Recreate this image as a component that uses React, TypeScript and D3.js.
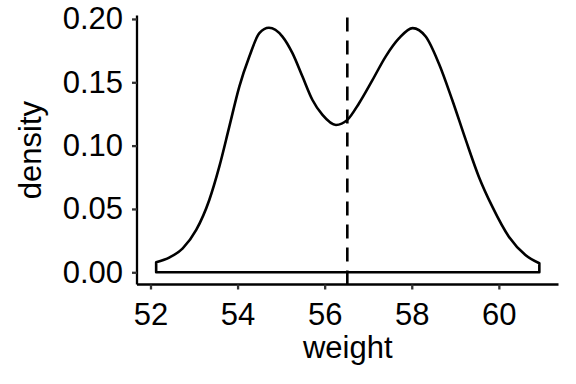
import * as d3 from "d3";
import { useEffect, useRef } from "react";

// density curve (weight -> density)
const weights = [
  52.13, 52.44, 52.74, 53.05, 53.35, 53.58, 53.81, 54.04, 54.27, 54.5, 54.72,
  55.03, 55.26, 55.49, 55.72, 55.95, 56.26, 56.52, 56.79, 57.1, 57.4, 57.71,
  58.02, 58.32, 58.62, 58.93, 59.24, 59.54, 59.85, 60.23, 60.61, 60.93,
];
const densities = [
  0.0079, 0.0118, 0.0189, 0.0334, 0.0571, 0.0834, 0.115, 0.1466, 0.1703,
  0.1888, 0.193, 0.1861, 0.173, 0.1545, 0.136, 0.1242, 0.1163, 0.1203,
  0.1335, 0.1519, 0.1703, 0.1848, 0.1928, 0.1861, 0.165, 0.136, 0.1045,
  0.0755, 0.0518, 0.0281, 0.0137, 0.0071,
];
const meanWeight = 56.52;

const xTicks = [52, 54, 56, 58, 60];
const yTicks = [0, 0.05, 0.1, 0.15, 0.2];

const width = 576;
const height = 384;

const DensityChart = () => {
  const svgRef = useRef(null);

  useEffect(() => {
    const margin = { top: 15.6, right: 17.5, bottom: 99.5, left: 137 };
    const svg = d3.select(svgRef.current);
    svg.selectAll("*").remove();
    svg.attr("width", width).attr("height", height);

    const font = "'Liberation Sans', Arial, Helvetica, sans-serif";
    const fontSize = 31;
    const points = weights.map((w, i) => ({ w, d: densities[i] }));

    // ggplot style 5% expansion on both scales
    const xMin = d3.min(weights);
    const xMax = d3.max(weights);
    const xPad = (xMax - xMin) * 0.05;
    const yMax = d3.max(densities);
    const yPad = yMax * 0.05;

    const xScale = d3
      .scaleLinear()
      .domain([xMin - xPad, xMax + xPad])
      .range([margin.left, width - margin.right]);
    const yScale = d3
      .scaleLinear()
      .domain([-yPad, yMax + yPad])
      .range([height - margin.bottom, margin.top]);

    const area = d3
      .area()
      .x((d) => xScale(d.w))
      .y0(yScale(0))
      .y1((d) => yScale(d.d))
      .curve(d3.curveMonotoneX);

    svg
      .append("path")
      .datum(points)
      .attr("d", area)
      .attr("fill", "white")
      .attr("stroke", "black")
      .attr("stroke-width", 2.6)
      .attr("stroke-linejoin", "round");

    // mean line
    svg
      .append("line")
      .attr("x1", xScale(meanWeight))
      .attr("x2", xScale(meanWeight))
      .attr("y1", height - margin.bottom)
      .attr("y2", margin.top)
      .attr("stroke", "black")
      .attr("stroke-width", 2.6)
      .attr("stroke-dasharray", "14,9");

    // axes
    const xAxis = svg
      .append("g")
      .attr("transform", `translate(0, ${height - margin.bottom})`)
      .call(d3.axisBottom(xScale).tickValues(xTicks).tickSize(5).tickPadding(13));
    const yAxis = svg
      .append("g")
      .attr("transform", `translate(${margin.left}, 0)`)
      .call(
        d3
          .axisLeft(yScale)
          .tickValues(yTicks)
          .tickSize(5)
          .tickPadding(9)
          .tickFormat(d3.format(".2f"))
      );

    [xAxis, yAxis].forEach((g) => {
      g.select(".domain").attr("stroke", "black").attr("stroke-width", 2.3);
      g.selectAll(".tick line").attr("stroke", "#333").attr("stroke-width", 2.3);
      g.selectAll(".tick text")
        .attr("fill", "black")
        .attr("font-size", fontSize)
        .attr("font-family", font);
    });
    xAxis
      .select(".domain")
      .attr("d", `M${margin.left},0H${width - margin.right}`);
    yAxis
      .select(".domain")
      .attr("d", `M0,${margin.top}V${height - margin.bottom}`);

    svg
      .append("text")
      .attr("x", (margin.left + width - margin.right) / 2)
      .attr("y", 358)
      .attr("text-anchor", "middle")
      .attr("font-size", fontSize)
      .attr("font-family", font)
      .text("weight");

    svg
      .append("text")
      .attr("transform", `translate(41, ${(margin.top + height - margin.bottom) / 2}) rotate(-90)`)
      .attr("text-anchor", "middle")
      .attr("font-size", fontSize)
      .attr("font-family", font)
      .text("density");
  }, []);

  return <svg ref={svgRef} style={{ display: "block" }}></svg>;
};

export default function App() {
  return (
    <div style={{ position: "absolute", left: 0, top: 0 }}>
      <DensityChart />
    </div>
  );
}
